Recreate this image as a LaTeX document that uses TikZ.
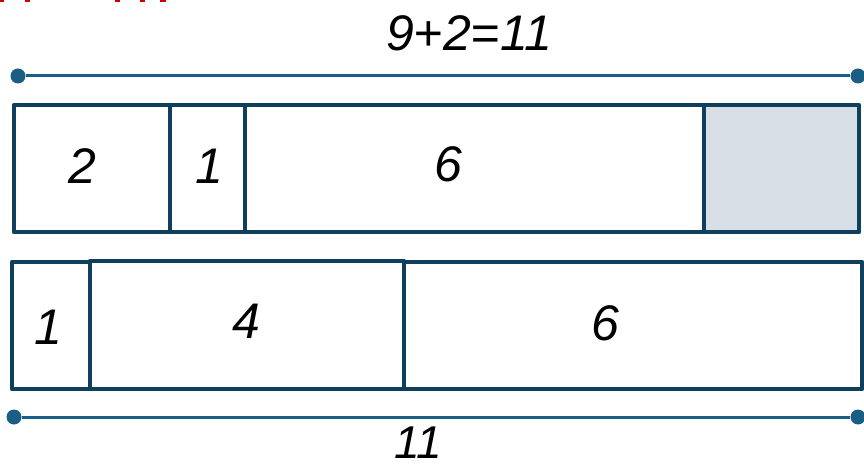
\documentclass[tikz,border=0pt]{standalone}
\usepackage{fontspec}
\setmainfont{Liberation Sans}
\begin{document}
\begin{tikzpicture}[x=1pt,y=-1pt,
  box/.style={draw=boxc, line width=4.5pt, rectangle, inner sep=0pt, outer sep=0pt, line join=round},
  lbl/.style={font=\fontsize{50}{50}\selectfont\itshape, text=black, inner sep=0pt},
  dimline/.style={draw=dimc, line width=3pt},
  dot/.style={circle, fill=dimc, minimum size=15pt, inner sep=0pt},
  redtick/.style={fill=red!80!black, draw=none}]
\definecolor{boxc}{HTML}{0E3F5C}
\definecolor{dimc}{HTML}{1B5E85}
\definecolor{shade}{HTML}{D9DFE6}
\useasboundingbox (0,0) rectangle (864,470);
\fill[white] (0,0) rectangle (864,470);
% red fragments at the top edge
\foreach \a/\b in {0/4,25/30,115/120,140/145,160/166}
  \path[redtick] (\a,0) rectangle (\b,2.5);
% top dimension line
\node[dot] (t1) at (18,76) {};
\node[dot] (t2) at (858,76) {};
\draw[dimline] (t1) -- (t2);
\node[lbl] (ttop) at (469,33) {9+2=11};
% top row
\node[box, minimum width=156, minimum height=127] (a1) at (92,168.5) {};
\node[box, minimum width=75, minimum height=127] (a2) at (207.5,168.5) {};
\node[box, minimum width=459, minimum height=127] (a3) at (474.5,168.5) {};
\node[box, fill=shade, minimum width=155, minimum height=127] (a4) at (781.5,168.5) {};
\node[lbl] (la1) at (82,166) {2};
\node[lbl] (la2) at (209,166) {1};
\node[lbl] (la3) at (448,164) {6};
% bottom row
\node[box, minimum width=78, minimum height=127] (b1) at (51,325.5) {};
\node[box, minimum width=314, minimum height=128] (b2) at (247,325) {};
\node[box, minimum width=458, minimum height=127] (b3) at (633,325.5) {};
\node[lbl] (lb1) at (48,327) {1};
\node[lbl] (lb2) at (246,321) {4};
\node[lbl] (lb3) at (605,323) {6};
% bottom dimension line
\node[dot] (u1) at (14,417) {};
\node[dot] (u2) at (858,417) {};
\draw[dimline] (u1) -- (u2);
\node[lbl, font=\fontsize{46}{46}\selectfont\itshape] (tbot) at (418,443) {11};
\end{tikzpicture}
\end{document}
